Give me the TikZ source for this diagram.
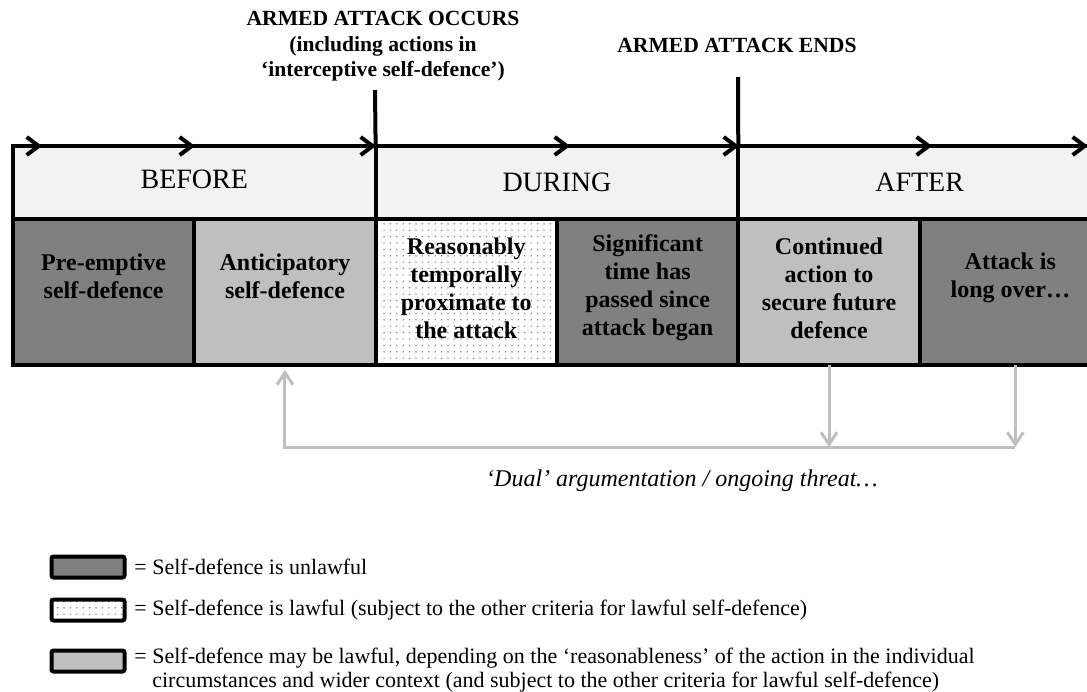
\documentclass[tikz,border=0pt]{standalone}
\usepackage{fontspec}
\setmainfont{Liberation Serif}
\usetikzlibrary{arrows.meta,patterns.meta,positioning}

\definecolor{unlawful}{HTML}{808080}
\definecolor{maylawful}{HTML}{BFBFBF}
\definecolor{headfill}{HTML}{F2F2F2}
\definecolor{loopgray}{HTML}{BFBFBF}

\tikzset{
  headcell/.style={draw=black, line width=2pt, fill=headfill, minimum width=181.33pt,
    minimum height=36.5pt, inner sep=0pt, outer sep=0pt, font=\fontsize{14}{16}\selectfont},
  cell/.style={draw=black, line width=2pt, minimum width=90.67pt, minimum height=73pt,
    inner sep=0pt, outer sep=0pt},
  dotfill/.style={preaction={fill=white}, pattern={Dots[radius=0.35pt, distance=3.2pt]},
    pattern color=black!60},
  celltext/.style={align=center, inner sep=0pt, font=\fontsize{12}{14}\selectfont\bfseries},
  toplabel/.style={align=center, inner sep=0pt, font=\fontsize{10.8}{12.75}\selectfont\bfseries},
  marker/.style={line width=2pt},
  timeline/.style={line width=2pt, -{Straight Barb[length=6pt,width=9pt]}},
  loopline/.style={draw=loopgray, line width=1.5pt},
  looparrow/.style={loopline, -{Straight Barb[length=6pt,width=8pt]}},
  keybox/.style={draw=black, line width=2pt, rounded corners=1pt, minimum width=36.5pt,
    minimum height=10.5pt, inner sep=0pt, outer sep=0pt},
  keytext/.style={anchor=west, align=left, inner sep=0pt, font=\fontsize{11}{12}\selectfont}
}

\begin{document}
\begin{tikzpicture}[x=0.5pt, y=-0.5pt]
\useasboundingbox (0,0) rectangle (1087,691);
\clip (0,0) rectangle (1087,691);

% Header row: the three phases
\node[headcell] (before) at (194.3,182.5) {\raisebox{3.5pt}{BEFORE}};
\node[headcell, right=0pt of before] (during) {DURING};
\node[headcell, right=0pt of during] (after) {AFTER};

% Lower row: the six kinds of action
\node[cell, fill=unlawful, below right=0pt and 0pt of before.south west] (c1) {};
\node[cell, fill=maylawful, right=0pt of c1] (c2) {};
\node[cell, dotfill, right=0pt of c2] (c3) {};
\node[cell, fill=unlawful, right=0pt of c3] (c4) {};
\node[cell, fill=maylawful, right=0pt of c4] (c5) {};
\node[cell, fill=unlawful, right=0pt of c5] (c6) {};

% Texts of the lower row
\node[celltext] (t1) at ([yshift=8pt]c1) {Pre-emptive\\self-defence};
\node[celltext] (t2) at ([yshift=8pt]c2) {Anticipatory\\self-defence};
\node[celltext] (t3) at ([yshift=2pt]c3) {Reasonably\\temporally\\proximate to\\the attack};
\node[celltext] (t4) at ([yshift=2pt]c4) {Significant\\time has\\passed since\\attack began};
\node[celltext] (t5) at ([yshift=2pt]c5) {Continued\\action to\\secure future\\defence};
\node[celltext] (t6) at ([yshift=7pt]c6) {Attack is\\long over…};

% Time line along the top edge
\foreach \a/\b in {13/42, 42/195, 195/376, 376/570, 570/739, 739/932, 932/1088}
  \draw[timeline] (\a,146) -- (\b,146);

% Start and end of the armed attack
\node[toplabel] (occurs) at (383,46.5) {ARMED ATTACK OCCURS\\(including actions in\\‘interceptive self-defence’)};
\node[toplabel] (ends) at (737,45) {ARMED ATTACK ENDS};
\coordinate (occtop) at (375,90);
\coordinate (endtop) at (738,77);
\draw[marker] (occtop) -- (before.north east);
\draw[marker] (endtop) -- (during.north east);

% Dual argumentation loop
\coordinate (base) at (0,447);
\draw[looparrow] (c5.south) -- (c5.south |- base);
\draw[looparrow] ([xshift=2.5pt]c6.south) -- ([xshift=2.5pt]c6.south |- base);
\draw[looparrow] ([xshift=2.5pt]c6.south |- base) -| ([yshift=-2.5pt]c2.south);
\node[font=\fontsize{12}{14}\selectfont\itshape] (dual) at (682,481) {‘Dual’ argumentation / ongoing threat…};

% Key
\node[keybox, fill=unlawful] (k1) at (88,567) {};
\node[keybox, dotfill] (k2) at (88,610) {};
\node[keybox, fill=maylawful] (k3) at (88,661) {};
\node[keytext] (l1) at ([xshift=4.75pt]k1.east) {= Self-defence is unlawful};
\node[keytext] (l2) at ([xshift=4.75pt]k2.east) {= Self-defence is lawful (subject to the other criteria for lawful self-defence)};
\node[keytext] (l3) at ([xshift=4.75pt,yshift=-4.5pt]k3.east) {= Self-defence may be lawful, depending on the ‘reasonableness’ of the action in the individual\\\phantom{= }circumstances and wider context (and subject to the other criteria for lawful self-defence)};
\end{tikzpicture}
\end{document}
